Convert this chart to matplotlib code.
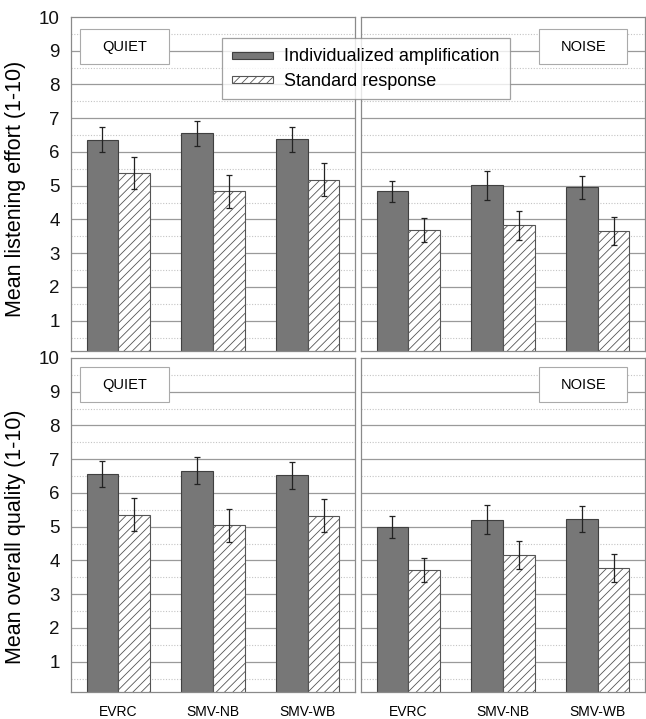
import matplotlib
matplotlib.use("Agg")
import matplotlib.pyplot as plt
from matplotlib.patches import Rectangle
import numpy as np

plt.rcParams['font.family'] = ['Liberation Sans', 'DejaVu Sans']
plt.rcParams['hatch.linewidth'] = 0.6

# -----------------------------
# Data
# -----------------------------
codecs = ["EVRC", "SMV-NB", "SMV-WB"]
conditions = ["QUIET", "NOISE"]
series_names = ["Individualized amplification", "Standard response"]

# listening effort: [quiet, noise]
effort_indiv = [[6.36, 6.56, 6.37], [4.84, 5.01, 4.96]]
effort_indiv_err = [[0.37, 0.37, 0.36], [0.31, 0.44, 0.34]]
effort_std = [[5.38, 4.83, 5.18], [3.68, 3.82, 3.66]]
effort_std_err = [[0.47, 0.48, 0.49], [0.36, 0.42, 0.42]]

# overall quality: [quiet, noise]
quality_indiv = [[6.57, 6.66, 6.52], [5.00, 5.21, 5.23]]
quality_indiv_err = [[0.38, 0.40, 0.39], [0.33, 0.43, 0.38]]
quality_std = [[5.36, 5.04, 5.33], [3.72, 4.16, 3.78]]
quality_std_err = [[0.48, 0.48, 0.48], [0.35, 0.41, 0.42]]

ylabels = ["Mean listening effort (1-10)", "Mean overall quality (1-10)"]

rows = [
    (effort_indiv, effort_indiv_err, effort_std, effort_std_err),
    (quality_indiv, quality_indiv_err, quality_std, quality_std_err),
]

# -----------------------------
# Figure
# -----------------------------
W, H = 646, 719
fig = plt.figure(figsize=(W / 100, H / 100), dpi=100)

def px_axes(left, top, right, bottom):
    return fig.add_axes([left / W, (H - bottom) / H, (right - left) / W, (bottom - top) / H])

col_px = [(71, 355), (361, 645)]
row_px = [(17, 351), (358, 692)]

x = np.arange(len(codecs))
width = 0.335
dark = "#777777"
edge = "#404040"
grid_col = "#9a9a9a"
ebar = dict(ecolor="#222222", elinewidth=0.9, capsize=2.5, capthick=0.9)

# condition label boxes (axes fraction: x0, x1, y0 per row)
box_x = [(0.032, 0.345), (0.627, 0.937)]
box_y = [(0.859, 0.964), (0.868, 0.973)]

for r, (ind, ind_e, std, std_e) in enumerate(rows):
    for c, cond in enumerate(conditions):
        ax = px_axes(col_px[c][0], row_px[r][0], col_px[c][1], row_px[r][1])
        ax.set_xlim(-0.5, 2.5)
        ax.set_ylim(0.1, 10)

        # grid: solid at integers, dotted at halves
        for v in range(1, 10):
            ax.axhline(v, color=grid_col, lw=0.9, zorder=0)
        for v in np.arange(0.5, 10, 1.0):
            ax.axhline(v, color="#c4c4c4", lw=0.8, ls=(0, (1, 1.5)), zorder=0)

        ax.bar(x - width / 2, ind[c], width, color=dark, edgecolor=edge, lw=0.8,
               yerr=ind_e[c], error_kw=ebar, zorder=2, label=series_names[0])
        ax.bar(x + width / 2, std[c], width, color="white", edgecolor="#555555", lw=0.8,
               hatch="////", yerr=std_e[c], error_kw=ebar, zorder=2, label=series_names[1])

        for s in ax.spines.values():
            s.set_color("#8a8a8a")
            s.set_linewidth(0.9)

        ax.set_yticks(range(1, 11))
        ax.tick_params(length=0)
        if c == 0:
            ax.set_yticklabels([str(v) for v in range(1, 11)], fontsize=13.5, color="#111111")
            ax.tick_params(axis="y", pad=8)
            ax.set_ylabel(ylabels[r], fontsize=15.5)
            ax.yaxis.set_label_coords(-0.158, 0.485 if r == 0 else 0.465)
        else:
            ax.set_yticklabels([])

        ax.set_xticks(x)
        if r == 1:
            ax.set_xticklabels(codecs, fontsize=10)
            ax.tick_params(axis="x", pad=9)
        else:
            ax.set_xticklabels([])

        # condition label box
        x0, x1 = box_x[c]
        y0, y1 = box_y[r]
        ax.add_patch(Rectangle((x0, y0), x1 - x0, y1 - y0, transform=ax.transAxes,
                               fc="white", ec="#aaaaaa", lw=0.8, zorder=4))
        ax.text((x0 + x1) / 2, (y0 + y1) / 2, cond, transform=ax.transAxes,
                ha="center", va="center", fontsize=10.5, zorder=5)

        if r == 0 and c == 0:
            handles, labels = ax.get_legend_handles_labels()

leg = fig.legend(handles, labels, loc="upper left", bbox_to_anchor=(222 / W, (H - 38) / H),
                 borderaxespad=0, fontsize=13, frameon=True, fancybox=False,
                 handlelength=2.3, handleheight=0.35, handletextpad=0.6,
                 labelspacing=0.42, borderpad=0.55)
leg.get_frame().set_edgecolor("#8a8a8a")
leg.get_frame().set_linewidth(0.9)
for h in leg.legend_handles:
    h.set_height(5)

fig.savefig("out.png", dpi=100)
